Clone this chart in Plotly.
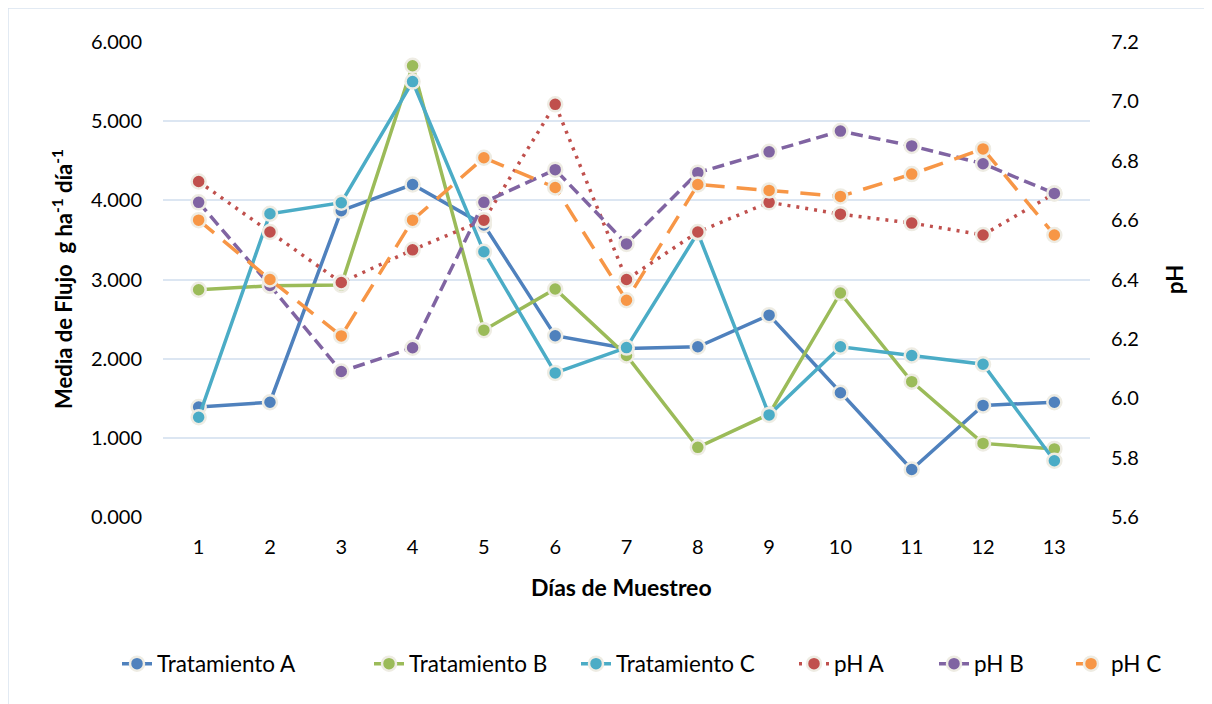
import plotly.graph_objects as go

dias = list(range(1, 14))
trat_a = [1.39, 1.45, 3.87, 4.20, 3.69, 2.29, 2.13, 2.15, 2.55, 1.57, 0.60, 1.41, 1.45]
trat_b = [2.87, 2.92, 2.93, 5.70, 2.36, 2.88, 2.04, 0.88, 1.30, 2.83, 1.71, 0.93, 0.86]
trat_c = [1.26, 3.83, 3.97, 5.50, 3.35, 1.82, 2.14, 3.59, 1.29, 2.15, 2.04, 1.93, 0.71]
ph_a = [6.73, 6.56, 6.39, 6.50, 6.60, 6.99, 6.40, 6.56, 6.66, 6.62, 6.59, 6.55, 6.69]
ph_b = [6.66, 6.38, 6.09, 6.17, 6.66, 6.77, 6.52, 6.76, 6.83, 6.90, 6.85, 6.79, 6.69]
ph_c = [6.60, 6.40, 6.21, 6.60, 6.81, 6.71, 6.33, 6.72, 6.70, 6.68, 6.755, 6.84, 6.55]

y_ticks = [0, 1, 2, 3, 4, 5, 6]
y2_ticks = [5.6, 5.8, 6.0, 6.2, 6.4, 6.6, 6.8, 7.0, 7.2]

FONT = "Lato"
RING = "#EEECE3"

OFF = 8  # page body margin
W, H = 1212 - OFF, 704 - OFF
L, T = 163 - OFF, 42 - OFF
R = W - (1090 - OFF)
B = H - (517 - OFF)
pw, ph = W - L - R, H - T - B

def px(x):
    return (x - OFF - L) / pw

def py(y):
    return (H - B - (y - OFF)) / ph

# legend text start positions (pixels in the page) for each entry
legend_text_x = [158, 410, 617, 835, 975, 1112]

def series(name, y, color, dash, axis, leg):
    return go.Scatter(
        x=dias, y=y, name=name, mode="lines+markers", yaxis=axis, legend=leg,
        line=dict(color=color, width=3.5, dash=dash),
        marker=dict(size=14, color=color, line=dict(color=RING, width=2.5)),
    )

fig = go.Figure()
fig.add_trace(series("Tratamiento A", trat_a, "#4F81BD", "solid", "y", "legend"))
fig.add_trace(series("Tratamiento B", trat_b, "#9BBB59", "solid", "y", "legend2"))
fig.add_trace(series("Tratamiento C", trat_c, "#4BACC6", "solid", "y", "legend3"))
fig.add_trace(series("pH A", ph_a, "#C0504D", "3px,6px", "y2", "legend4"))
fig.add_trace(series("pH B", ph_b, "#8064A2", "12px,6px", "y2", "legend5"))
fig.add_trace(series("pH C", ph_c, "#F79646", "20px,12px", "y2", "legend6"))

legends = {}
for i, tx in enumerate(legend_text_x):
    key = "legend" if i == 0 else f"legend{i + 1}"
    legends[key] = dict(orientation="h", x=px(tx - 41), xanchor="left", y=py(664),
                        yanchor="middle", font=dict(size=22.5), bgcolor="rgba(0,0,0,0)")

fig.update_layout(
    width=W, height=H,
    margin=dict(l=L, r=R, t=T, b=B),
    paper_bgcolor="white", plot_bgcolor="white",
    font=dict(family=FONT, size=19, color="#000000"),
    showlegend=True,
    xaxis=dict(range=[0.5, 13.5], tickmode="array", tickvals=dias,
               ticktext=[str(d) for d in dias], showgrid=False, zeroline=False,
               showline=False, ticks="", tickfont=dict(size=20), ticklabelstandoff=16),
    yaxis=dict(range=[0, 6], tickmode="array", tickvals=y_ticks,
               ticktext=[f"{v:.3f}" for v in y_ticks], showgrid=True,
               gridcolor="#DCE6F2", gridwidth=1.5, zeroline=False, showline=False,
               ticks="", tickfont=dict(size=20), ticklabelstandoff=20),
    yaxis2=dict(range=[5.6, 7.2], overlaying="y", side="right", tickmode="array",
                tickvals=y2_ticks, ticktext=[f"{v:.1f}" for v in y2_ticks],
                showgrid=False, zeroline=False, showline=False, ticks="",
                tickfont=dict(size=20), ticklabelstandoff=20),
    annotations=[
        dict(text="<b>Media de Flujo  g ha<sup>-1</sup> día<sup>-1</sup></b>", xref="paper", yref="paper",
             x=px(62), y=py(279), textangle=-90, showarrow=False, xanchor="center", yanchor="middle",
             font=dict(size=22)),
        dict(text="<b>pH</b>", xref="paper", yref="paper",
             x=px(1174), y=py(280), textangle=-90, showarrow=False, xanchor="center", yanchor="middle",
             font=dict(size=22)),
        dict(text="<b>Días de Muestreo</b>", xref="paper", yref="paper",
             x=px(621), y=py(587), showarrow=False, xanchor="center", yanchor="middle",
             font=dict(size=23)),
    ],
    shapes=[dict(type="rect", xref="paper", yref="paper", x0=px(8), x1=px(1225),
                 y0=py(720), y1=py(8), line=dict(color="#D9E3EF", width=1.5), layer="below")],
    **legends,
)

fig.write_html("out.html")
